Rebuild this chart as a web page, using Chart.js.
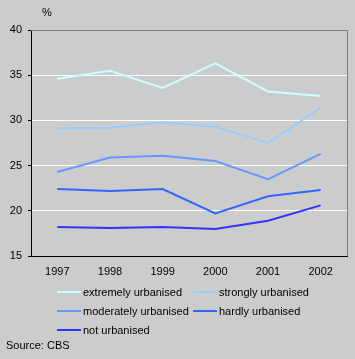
<!DOCTYPE html>
<html>
<head>
<meta charset="utf-8">
<script src="https://cdn.jsdelivr.net/npm/chart.js@4/dist/chart.umd.min.js"></script>
<style>
html,body{margin:0;padding:0;background:#cccccc;}
#wrap{position:relative;width:355px;height:359px;background:#cccccc;font-family:"Liberation Sans",Arial,sans-serif;font-size:11px;color:#000;}
#c{position:absolute;left:0;top:0;}
.pct{position:absolute;left:42px;top:6px;}
.leg{position:absolute;white-space:nowrap;line-height:13px;}
.leg span.sw{position:absolute;left:0;top:5px;width:24px;height:2px;}
.leg span.t{position:absolute;left:26px;top:0;}
.src{position:absolute;left:6px;top:339px;}
</style>
</head>
<body>
<div id="wrap">
<canvas id="c" width="355" height="359"></canvas>
<div class="pct">%</div>
<div id="legend"></div>
<div class="src">Source: CBS</div>
</div>
<script>
const categories = ["1997","1998","1999","2000","2001","2002"];
const extremelyUrbanised = [34.6, 35.5, 33.6, 36.3, 33.2, 32.7];
const stronglyUrbanised = [29.1, 29.2, 29.8, 29.3, 27.5, 31.4];
const moderatelyUrbanised = [24.3, 25.9, 26.1, 25.5, 23.5, 26.3];
const hardlyUrbanised = [22.4, 22.2, 22.4, 19.7, 21.6, 22.3];
const notUrbanised = [18.2, 18.1, 18.2, 18.0, 18.9, 20.6];
const seriesLabels = ["extremely urbanised","strongly urbanised","moderately urbanised","hardly urbanised","not urbanised"];
const seriesColors = ["#ccffff","#99ccff","#6699ff","#3366ff","#3333ff"];
const yTicks = [15,20,25,30,35,40];

const allSeries = [extremelyUrbanised, stronglyUrbanised, moderatelyUrbanised, hardlyUrbanised, notUrbanised];
const datasets = allSeries.map((d,i)=>({
  label: seriesLabels[i], data: d, borderColor: seriesColors[i], backgroundColor: seriesColors[i],
  borderWidth: 2, pointRadius: 0, tension: 0, fill: false
}));

const frame = {
  id:'frame',
  afterDraw(chart){
    const {ctx, chartArea:a} = chart;
    ctx.save();
    ctx.strokeStyle = '#808080'; ctx.lineWidth = 1;
    ctx.beginPath();
    ctx.moveTo(a.left, a.top+0.5); ctx.lineTo(a.right+0.5, a.top+0.5);
    ctx.moveTo(a.right+0.5, a.top); ctx.lineTo(a.right+0.5, a.bottom);
    ctx.stroke();
    ctx.restore();
  }
};

new Chart(document.getElementById('c'), {
  type:'line',
  data:{labels:categories, datasets},
  options:{
    responsive:false, animation:false, devicePixelRatio:1,
    layout:{padding:{left:0, top:30, right:8, bottom:79}},
    plugins:{legend:{display:false}, tooltip:{enabled:false}},
    scales:{
      x:{
        offset:true,
        grid:{display:false, drawTicks:false},
        border:{display:true, color:'#000', width:1},
        ticks:{color:'#000', font:{family:'"Liberation Sans", Arial, sans-serif', size:11}, padding:9, maxRotation:0},
        afterFit(s){ s.height = 24; }
      },
      y:{
        min:15, max:40,
        afterBuildTicks(s){ s.ticks = yTicks.map(v=>({value:v})); },
        grid:{color:(c)=> c.tick && c.tick.value===40 ? '#808080' : (c.tick && c.tick.value===15 ? 'rgba(0,0,0,0)' : '#ffffff'), tickColor:'#000', tickLength:3, drawTicks:true},
        border:{display:true, color:'#000', width:1},
        ticks:{color:'#000', font:{family:'"Liberation Sans", Arial, sans-serif', size:11}, padding:6},
        afterFit(s){ s.width = 31; }
      }
    }
  },
  plugins:[frame]
});

const legendEl = document.getElementById('legend');
const colX = [57, 193];
const rowY = [286, 305, 324];
seriesLabels.forEach((lab,i)=>{
  const d = document.createElement('div');
  d.className='leg';
  d.style.left = colX[i%2]+'px';
  d.style.top = rowY[Math.floor(i/2)]+'px';
  d.innerHTML = '<span class="sw" style="background:'+seriesColors[i]+'"></span><span class="t"></span>';
  d.querySelector('.t').textContent = lab;
  legendEl.appendChild(d);
});
</script>
</body>
</html>
